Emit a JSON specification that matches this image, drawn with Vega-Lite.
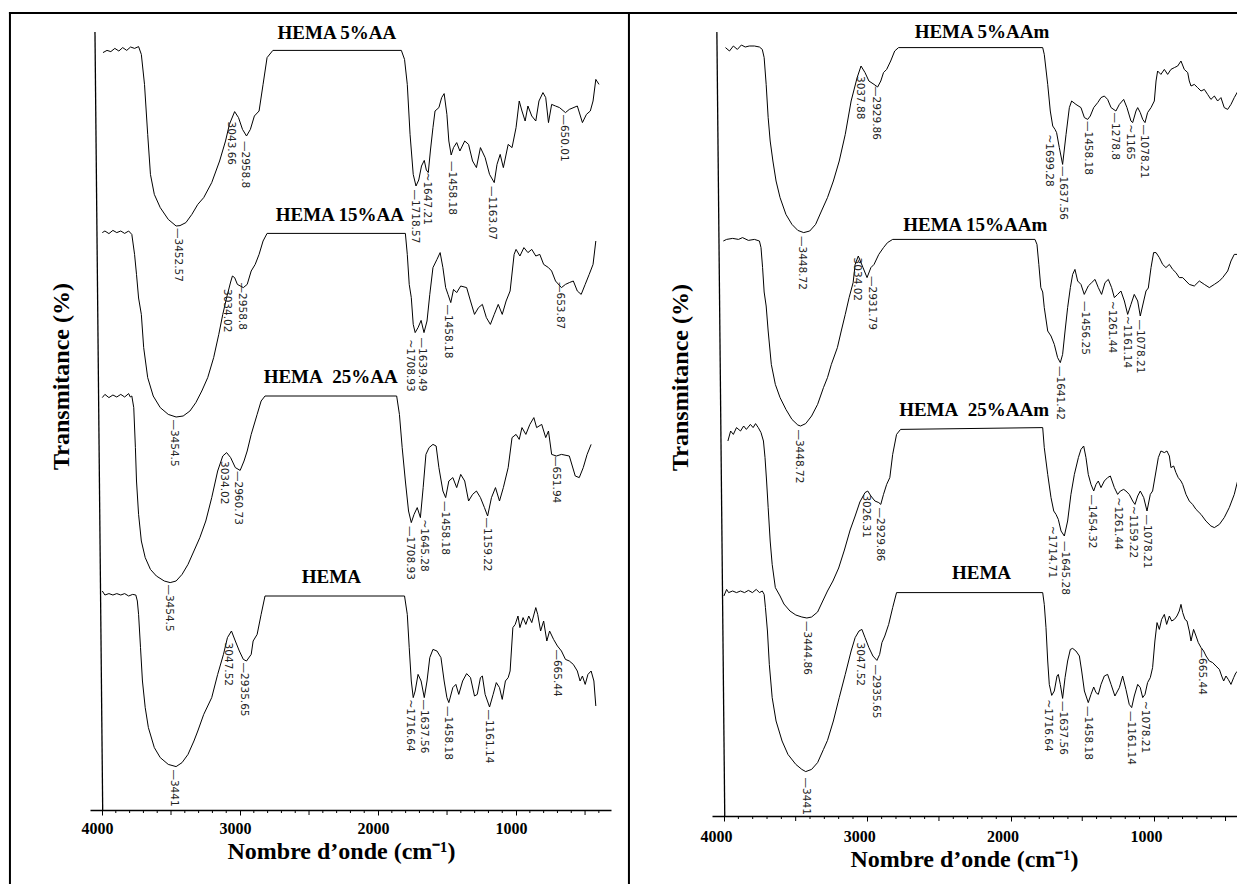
{
"$schema":"https://vega.github.io/schema/vega-lite/v6.json",
"background":"white",
"padding":{"left":8,"top":11,"right":0,"bottom":0},
"bounds":"flush",
"spacing":101,
"config":{"view":{"stroke":null}},
"datasets":{
"ticksMinor":[{"wn":3900},{"wn":3800},{"wn":3700},{"wn":3600},{"wn":3400},{"wn":3300},{"wn":3200},{"wn":3100},{"wn":2900},{"wn":2800},{"wn":2700},{"wn":2600},{"wn":2400},{"wn":2300},{"wn":2200},{"wn":2100},{"wn":1900},{"wn":1800},{"wn":1700},{"wn":1600},{"wn":1400},{"wn":1300},{"wn":1200},{"wn":1100},{"wn":900},{"wn":800},{"wn":700},{"wn":600},{"wn":400}],
"ticksMid":[{"wn":3500},{"wn":2500},{"wn":1500},{"wn":500}],
"specL":[
{"series":"HEMA 5%AA","wn":3993,"T":378.7},{"series":"HEMA 5%AA","wn":3964,"T":379.8},{"series":"HEMA 5%AA","wn":3936,"T":379.2},{"series":"HEMA 5%AA","wn":3907,"T":380.8},{"series":"HEMA 5%AA","wn":3878,"T":379.5},{"series":"HEMA 5%AA","wn":3850,"T":381.2},{"series":"HEMA 5%AA","wn":3821,"T":379.8},{"series":"HEMA 5%AA","wn":3793,"T":381.5},{"series":"HEMA 5%AA","wn":3764,"T":380.8},{"series":"HEMA 5%AA","wn":3735,"T":381.7},{"series":"HEMA 5%AA","wn":3715,"T":377.8},{"series":"HEMA 5%AA","wn":3692,"T":362.8},{"series":"HEMA 5%AA","wn":3669,"T":337.8},{"series":"HEMA 5%AA","wn":3649,"T":317.8},{"series":"HEMA 5%AA","wn":3621,"T":307.8},{"series":"HEMA 5%AA","wn":3578,"T":301.2},{"series":"HEMA 5%AA","wn":3520,"T":295.3},{"series":"HEMA 5%AA","wn":3463,"T":292},{"series":"HEMA 5%AA","wn":3435,"T":292.2},{"series":"HEMA 5%AA","wn":3392,"T":293.7},{"series":"HEMA 5%AA","wn":3349,"T":297.8},{"series":"HEMA 5%AA","wn":3306,"T":302.8},{"series":"HEMA 5%AA","wn":3263,"T":306.2},{"series":"HEMA 5%AA","wn":3205,"T":313.7},{"series":"HEMA 5%AA","wn":3148,"T":324.5},{"series":"HEMA 5%AA","wn":3105,"T":334.5},{"series":"HEMA 5%AA","wn":3077,"T":342.8},{"series":"HEMA 5%AA","wn":3039,"T":349.2},{"series":"HEMA 5%AA","wn":3011,"T":346.2},{"series":"HEMA 5%AA","wn":2982,"T":340.3},{"series":"HEMA 5%AA","wn":2953,"T":337},{"series":"HEMA 5%AA","wn":2925,"T":340.3},{"series":"HEMA 5%AA","wn":2896,"T":347},{"series":"HEMA 5%AA","wn":2862,"T":349.5},{"series":"HEMA 5%AA","wn":2833,"T":362.8},{"series":"HEMA 5%AA","wn":2804,"T":376.2},{"series":"HEMA 5%AA","wn":2762,"T":379.8},{"series":"HEMA 5%AA","wn":1831,"T":379.8},{"series":"HEMA 5%AA","wn":1808,"T":375.3},{"series":"HEMA 5%AA","wn":1788,"T":362.8},{"series":"HEMA 5%AA","wn":1768,"T":337.8},{"series":"HEMA 5%AA","wn":1745,"T":317.8},{"series":"HEMA 5%AA","wn":1725,"T":312},{"series":"HEMA 5%AA","wn":1705,"T":315},{"series":"HEMA 5%AA","wn":1685,"T":322},{"series":"HEMA 5%AA","wn":1665,"T":324.8},{"series":"HEMA 5%AA","wn":1650,"T":320},{"series":"HEMA 5%AA","wn":1636,"T":318.7},{"series":"HEMA 5%AA","wn":1620,"T":330},{"series":"HEMA 5%AA","wn":1602,"T":341.2},{"series":"HEMA 5%AA","wn":1587,"T":349.5},{"series":"HEMA 5%AA","wn":1559,"T":351.2},{"series":"HEMA 5%AA","wn":1539,"T":356.2},{"series":"HEMA 5%AA","wn":1521,"T":358.2},{"series":"HEMA 5%AA","wn":1501,"T":347.8},{"series":"HEMA 5%AA","wn":1487,"T":334.5},{"series":"HEMA 5%AA","wn":1470,"T":327.5},{"series":"HEMA 5%AA","wn":1453,"T":331.2},{"series":"HEMA 5%AA","wn":1430,"T":333.7},{"series":"HEMA 5%AA","wn":1407,"T":329.5},{"series":"HEMA 5%AA","wn":1372,"T":334.5},{"series":"HEMA 5%AA","wn":1344,"T":332.8},{"series":"HEMA 5%AA","wn":1315,"T":324.5},{"series":"HEMA 5%AA","wn":1287,"T":321.2},{"series":"HEMA 5%AA","wn":1258,"T":331.2},{"series":"HEMA 5%AA","wn":1224,"T":326.2},{"series":"HEMA 5%AA","wn":1192,"T":317.8},{"series":"HEMA 5%AA","wn":1158,"T":313.7},{"series":"HEMA 5%AA","wn":1138,"T":322.8},{"series":"HEMA 5%AA","wn":1115,"T":327.8},{"series":"HEMA 5%AA","wn":1092,"T":321.2},{"series":"HEMA 5%AA","wn":1057,"T":332.8},{"series":"HEMA 5%AA","wn":1029,"T":331.2},{"series":"HEMA 5%AA","wn":1000,"T":341.2},{"series":"HEMA 5%AA","wn":977,"T":354.5},{"series":"HEMA 5%AA","wn":957,"T":349.5},{"series":"HEMA 5%AA","wn":934,"T":344.5},{"series":"HEMA 5%AA","wn":914,"T":352},{"series":"HEMA 5%AA","wn":886,"T":347},{"series":"HEMA 5%AA","wn":857,"T":344.5},{"series":"HEMA 5%AA","wn":834,"T":354.5},{"series":"HEMA 5%AA","wn":805,"T":358.7},{"series":"HEMA 5%AA","wn":785,"T":356.2},{"series":"HEMA 5%AA","wn":765,"T":343.7},{"series":"HEMA 5%AA","wn":742,"T":352.8},{"series":"HEMA 5%AA","wn":714,"T":352},{"series":"HEMA 5%AA","wn":685,"T":351.2},{"series":"HEMA 5%AA","wn":642,"T":348.7},{"series":"HEMA 5%AA","wn":614,"T":350.3},{"series":"HEMA 5%AA","wn":556,"T":352},{"series":"HEMA 5%AA","wn":519,"T":343.7},{"series":"HEMA 5%AA","wn":490,"T":347.8},{"series":"HEMA 5%AA","wn":462,"T":349.5},{"series":"HEMA 5%AA","wn":442,"T":354.5},{"series":"HEMA 5%AA","wn":422,"T":365.3},{"series":"HEMA 5%AA","wn":399,"T":362.8},
{"series":"HEMA 15%AA","wn":3998,"T":288.7},{"series":"HEMA 15%AA","wn":3979,"T":289.5},{"series":"HEMA 15%AA","wn":3950,"T":288.2},{"series":"HEMA 15%AA","wn":3921,"T":289.8},{"series":"HEMA 15%AA","wn":3893,"T":288.7},{"series":"HEMA 15%AA","wn":3864,"T":289.5},{"series":"HEMA 15%AA","wn":3836,"T":288.3},{"series":"HEMA 15%AA","wn":3807,"T":289.5},{"series":"HEMA 15%AA","wn":3784,"T":287.8},{"series":"HEMA 15%AA","wn":3764,"T":277.8},{"series":"HEMA 15%AA","wn":3750,"T":267.8},{"series":"HEMA 15%AA","wn":3735,"T":256},{"series":"HEMA 15%AA","wn":3715,"T":247.8},{"series":"HEMA 15%AA","wn":3698,"T":231.2},{"series":"HEMA 15%AA","wn":3669,"T":216.2},{"series":"HEMA 15%AA","wn":3629,"T":207},{"series":"HEMA 15%AA","wn":3578,"T":201.2},{"series":"HEMA 15%AA","wn":3520,"T":197.8},{"series":"HEMA 15%AA","wn":3463,"T":196.5},{"series":"HEMA 15%AA","wn":3412,"T":197},{"series":"HEMA 15%AA","wn":3363,"T":199.5},{"series":"HEMA 15%AA","wn":3320,"T":203.7},{"series":"HEMA 15%AA","wn":3277,"T":209.5},{"series":"HEMA 15%AA","wn":3234,"T":216.2},{"series":"HEMA 15%AA","wn":3191,"T":226.2},{"series":"HEMA 15%AA","wn":3154,"T":237.8},{"series":"HEMA 15%AA","wn":3125,"T":247.8},{"series":"HEMA 15%AA","wn":3097,"T":256.2},{"series":"HEMA 15%AA","wn":3068,"T":264},{"series":"HEMA 15%AA","wn":3055,"T":267},{"series":"HEMA 15%AA","wn":3039,"T":266.2},{"series":"HEMA 15%AA","wn":3019,"T":262.8},{"series":"HEMA 15%AA","wn":2976,"T":261.2},{"series":"HEMA 15%AA","wn":2948,"T":262.8},{"series":"HEMA 15%AA","wn":2919,"T":269.5},{"series":"HEMA 15%AA","wn":2890,"T":272.8},{"series":"HEMA 15%AA","wn":2862,"T":277.8},{"series":"HEMA 15%AA","wn":2833,"T":284.5},{"series":"HEMA 15%AA","wn":2804,"T":288.3},{"series":"HEMA 15%AA","wn":1802,"T":288.3},{"series":"HEMA 15%AA","wn":1788,"T":277.8},{"series":"HEMA 15%AA","wn":1774,"T":262.8},{"series":"HEMA 15%AA","wn":1759,"T":256.2},{"series":"HEMA 15%AA","wn":1745,"T":242.8},{"series":"HEMA 15%AA","wn":1731,"T":238.7},{"series":"HEMA 15%AA","wn":1710,"T":241.2},{"series":"HEMA 15%AA","wn":1688,"T":244.8},{"series":"HEMA 15%AA","wn":1667,"T":238.7},{"series":"HEMA 15%AA","wn":1645,"T":244.5},{"series":"HEMA 15%AA","wn":1625,"T":257.8},{"series":"HEMA 15%AA","wn":1602,"T":271.2},{"series":"HEMA 15%AA","wn":1573,"T":275.3},{"series":"HEMA 15%AA","wn":1550,"T":278.7},{"series":"HEMA 15%AA","wn":1530,"T":271.2},{"series":"HEMA 15%AA","wn":1510,"T":261.2},{"series":"HEMA 15%AA","wn":1493,"T":257.8},{"series":"HEMA 15%AA","wn":1473,"T":253.7},{"series":"HEMA 15%AA","wn":1453,"T":260.3},{"series":"HEMA 15%AA","wn":1430,"T":258.7},{"series":"HEMA 15%AA","wn":1401,"T":262},{"series":"HEMA 15%AA","wn":1358,"T":261.2},{"series":"HEMA 15%AA","wn":1330,"T":254.5},{"series":"HEMA 15%AA","wn":1301,"T":247.8},{"series":"HEMA 15%AA","wn":1272,"T":251.2},{"series":"HEMA 15%AA","wn":1244,"T":252.8},{"series":"HEMA 15%AA","wn":1215,"T":246.2},{"series":"HEMA 15%AA","wn":1186,"T":242.8},{"series":"HEMA 15%AA","wn":1158,"T":247.8},{"series":"HEMA 15%AA","wn":1129,"T":252.8},{"series":"HEMA 15%AA","wn":1100,"T":247.8},{"series":"HEMA 15%AA","wn":1072,"T":254.5},{"series":"HEMA 15%AA","wn":1043,"T":259.5},{"series":"HEMA 15%AA","wn":1014,"T":277.8},{"series":"HEMA 15%AA","wn":1000,"T":280.3},{"series":"HEMA 15%AA","wn":972,"T":277},{"series":"HEMA 15%AA","wn":943,"T":281.2},{"series":"HEMA 15%AA","wn":914,"T":278.7},{"series":"HEMA 15%AA","wn":886,"T":280.3},{"series":"HEMA 15%AA","wn":857,"T":277},{"series":"HEMA 15%AA","wn":828,"T":277.8},{"series":"HEMA 15%AA","wn":800,"T":272.8},{"series":"HEMA 15%AA","wn":765,"T":271.2},{"series":"HEMA 15%AA","wn":742,"T":269.5},{"series":"HEMA 15%AA","wn":714,"T":264.5},{"series":"HEMA 15%AA","wn":671,"T":261.2},{"series":"HEMA 15%AA","wn":642,"T":262.8},{"series":"HEMA 15%AA","wn":614,"T":263.7},{"series":"HEMA 15%AA","wn":585,"T":264.5},{"series":"HEMA 15%AA","wn":556,"T":259.5},{"series":"HEMA 15%AA","wn":528,"T":257.8},{"series":"HEMA 15%AA","wn":499,"T":262.8},{"series":"HEMA 15%AA","wn":470,"T":267.8},{"series":"HEMA 15%AA","wn":442,"T":272.8},{"series":"HEMA 15%AA","wn":422,"T":284.5},
{"series":"HEMA 25%AA","wn":3998,"T":206.2},{"series":"HEMA 25%AA","wn":3979,"T":207.8},{"series":"HEMA 25%AA","wn":3950,"T":206.2},{"series":"HEMA 25%AA","wn":3921,"T":207.5},{"series":"HEMA 25%AA","wn":3893,"T":206.5},{"series":"HEMA 25%AA","wn":3864,"T":207.8},{"series":"HEMA 25%AA","wn":3836,"T":206.5},{"series":"HEMA 25%AA","wn":3807,"T":208.2},{"series":"HEMA 25%AA","wn":3795,"T":206.5},{"series":"HEMA 25%AA","wn":3784,"T":207},{"series":"HEMA 25%AA","wn":3770,"T":201.2},{"series":"HEMA 25%AA","wn":3758,"T":181.2},{"series":"HEMA 25%AA","wn":3750,"T":164.5},{"series":"HEMA 25%AA","wn":3735,"T":147.8},{"series":"HEMA 25%AA","wn":3715,"T":134.5},{"series":"HEMA 25%AA","wn":3687,"T":126.2},{"series":"HEMA 25%AA","wn":3649,"T":120.3},{"series":"HEMA 25%AA","wn":3606,"T":117},{"series":"HEMA 25%AA","wn":3549,"T":114.5},{"series":"HEMA 25%AA","wn":3506,"T":113.7},{"series":"HEMA 25%AA","wn":3463,"T":114.5},{"series":"HEMA 25%AA","wn":3420,"T":117.8},{"series":"HEMA 25%AA","wn":3377,"T":122.8},{"series":"HEMA 25%AA","wn":3334,"T":129.5},{"series":"HEMA 25%AA","wn":3291,"T":136.2},{"series":"HEMA 25%AA","wn":3248,"T":144.5},{"series":"HEMA 25%AA","wn":3205,"T":156.2},{"series":"HEMA 25%AA","wn":3162,"T":169.5},{"series":"HEMA 25%AA","wn":3125,"T":177},{"series":"HEMA 25%AA","wn":3097,"T":178.7},{"series":"HEMA 25%AA","wn":3068,"T":176.2},{"series":"HEMA 25%AA","wn":3034,"T":171.2},{"series":"HEMA 25%AA","wn":2999,"T":169.8},{"series":"HEMA 25%AA","wn":2971,"T":174.5},{"series":"HEMA 25%AA","wn":2948,"T":179.5},{"series":"HEMA 25%AA","wn":2919,"T":187.8},{"series":"HEMA 25%AA","wn":2876,"T":197.8},{"series":"HEMA 25%AA","wn":2847,"T":204.5},{"series":"HEMA 25%AA","wn":2819,"T":207},{"series":"HEMA 25%AA","wn":1865,"T":207},{"series":"HEMA 25%AA","wn":1845,"T":197.8},{"series":"HEMA 25%AA","wn":1825,"T":181.2},{"series":"HEMA 25%AA","wn":1802,"T":164.5},{"series":"HEMA 25%AA","wn":1779,"T":149.5},{"series":"HEMA 25%AA","wn":1759,"T":143.7},{"series":"HEMA 25%AA","wn":1739,"T":147.8},{"series":"HEMA 25%AA","wn":1716,"T":151.2},{"series":"HEMA 25%AA","wn":1693,"T":146.2},{"series":"HEMA 25%AA","wn":1673,"T":161.2},{"series":"HEMA 25%AA","wn":1653,"T":177.8},{"series":"HEMA 25%AA","wn":1630,"T":181.2},{"series":"HEMA 25%AA","wn":1602,"T":182.8},{"series":"HEMA 25%AA","wn":1579,"T":182},{"series":"HEMA 25%AA","wn":1559,"T":171.2},{"series":"HEMA 25%AA","wn":1530,"T":159.5},{"series":"HEMA 25%AA","wn":1510,"T":156.2},{"series":"HEMA 25%AA","wn":1487,"T":164.5},{"series":"HEMA 25%AA","wn":1458,"T":166.2},{"series":"HEMA 25%AA","wn":1430,"T":161.2},{"series":"HEMA 25%AA","wn":1401,"T":167.8},{"series":"HEMA 25%AA","wn":1372,"T":164.5},{"series":"HEMA 25%AA","wn":1344,"T":154.5},{"series":"HEMA 25%AA","wn":1315,"T":157.8},{"series":"HEMA 25%AA","wn":1287,"T":159.5},{"series":"HEMA 25%AA","wn":1258,"T":156.2},{"series":"HEMA 25%AA","wn":1229,"T":151.2},{"series":"HEMA 25%AA","wn":1206,"T":147},{"series":"HEMA 25%AA","wn":1178,"T":156.2},{"series":"HEMA 25%AA","wn":1149,"T":161.2},{"series":"HEMA 25%AA","wn":1120,"T":154.5},{"series":"HEMA 25%AA","wn":1092,"T":161.2},{"series":"HEMA 25%AA","wn":1057,"T":171.2},{"series":"HEMA 25%AA","wn":1029,"T":186.2},{"series":"HEMA 25%AA","wn":1000,"T":187.8},{"series":"HEMA 25%AA","wn":977,"T":185.3},{"series":"HEMA 25%AA","wn":957,"T":191.2},{"series":"HEMA 25%AA","wn":929,"T":187.8},{"series":"HEMA 25%AA","wn":900,"T":192.8},{"series":"HEMA 25%AA","wn":871,"T":196.2},{"series":"HEMA 25%AA","wn":851,"T":191.2},{"series":"HEMA 25%AA","wn":814,"T":192.8},{"series":"HEMA 25%AA","wn":785,"T":186.2},{"series":"HEMA 25%AA","wn":765,"T":189.5},{"series":"HEMA 25%AA","wn":742,"T":177.8},{"series":"HEMA 25%AA","wn":708,"T":177},{"series":"HEMA 25%AA","wn":671,"T":177.8},{"series":"HEMA 25%AA","wn":614,"T":177},{"series":"HEMA 25%AA","wn":571,"T":167},{"series":"HEMA 25%AA","wn":542,"T":166.2},{"series":"HEMA 25%AA","wn":513,"T":171.2},{"series":"HEMA 25%AA","wn":485,"T":177.8},{"series":"HEMA 25%AA","wn":456,"T":182.8},
{"series":"HEMA","wn":3998,"T":109.5},{"series":"HEMA","wn":3979,"T":107.5},{"series":"HEMA","wn":3950,"T":108.2},{"series":"HEMA","wn":3921,"T":107.5},{"series":"HEMA","wn":3893,"T":108.2},{"series":"HEMA","wn":3864,"T":107.5},{"series":"HEMA","wn":3836,"T":108.2},{"series":"HEMA","wn":3807,"T":107},{"series":"HEMA","wn":3778,"T":107.8},{"series":"HEMA","wn":3755,"T":107.5},{"series":"HEMA","wn":3744,"T":104.5},{"series":"HEMA","wn":3735,"T":97.8},{"series":"HEMA","wn":3721,"T":81.2},{"series":"HEMA","wn":3707,"T":64.5},{"series":"HEMA","wn":3687,"T":51.2},{"series":"HEMA","wn":3664,"T":41.2},{"series":"HEMA","wn":3621,"T":31.2},{"series":"HEMA","wn":3578,"T":26.2},{"series":"HEMA","wn":3520,"T":22.8},{"series":"HEMA","wn":3463,"T":21.7},{"series":"HEMA","wn":3420,"T":23.7},{"series":"HEMA","wn":3377,"T":27.8},{"series":"HEMA","wn":3334,"T":34.5},{"series":"HEMA","wn":3306,"T":39.5},{"series":"HEMA","wn":3263,"T":47.8},{"series":"HEMA","wn":3205,"T":56.2},{"series":"HEMA","wn":3162,"T":67.8},{"series":"HEMA","wn":3120,"T":77.8},{"series":"HEMA","wn":3091,"T":86.2},{"series":"HEMA","wn":3062,"T":89.5},{"series":"HEMA","wn":3034,"T":84.5},{"series":"HEMA","wn":3005,"T":79.5},{"series":"HEMA","wn":2976,"T":75.3},{"series":"HEMA","wn":2953,"T":74.5},{"series":"HEMA","wn":2919,"T":77.8},{"series":"HEMA","wn":2905,"T":84.5},{"series":"HEMA","wn":2876,"T":87.8},{"series":"HEMA","wn":2847,"T":97.8},{"series":"HEMA","wn":2819,"T":107},{"series":"HEMA","wn":1808,"T":107},{"series":"HEMA","wn":1788,"T":97.8},{"series":"HEMA","wn":1774,"T":81.2},{"series":"HEMA","wn":1759,"T":64.5},{"series":"HEMA","wn":1745,"T":56.2},{"series":"HEMA","wn":1731,"T":59.5},{"series":"HEMA","wn":1710,"T":67.8},{"series":"HEMA","wn":1688,"T":64.5},{"series":"HEMA","wn":1665,"T":56.2},{"series":"HEMA","wn":1645,"T":64.5},{"series":"HEMA","wn":1625,"T":76.2},{"series":"HEMA","wn":1602,"T":80.3},{"series":"HEMA","wn":1573,"T":79.5},{"series":"HEMA","wn":1544,"T":76.2},{"series":"HEMA","wn":1521,"T":64.5},{"series":"HEMA","wn":1501,"T":56.2},{"series":"HEMA","wn":1487,"T":53.7},{"series":"HEMA","wn":1458,"T":61.2},{"series":"HEMA","wn":1436,"T":62.8},{"series":"HEMA","wn":1415,"T":57.8},{"series":"HEMA","wn":1387,"T":64.5},{"series":"HEMA","wn":1358,"T":68.2},{"series":"HEMA","wn":1330,"T":66.2},{"series":"HEMA","wn":1301,"T":57},{"series":"HEMA","wn":1281,"T":57.8},{"series":"HEMA","wn":1258,"T":66.2},{"series":"HEMA","wn":1244,"T":67},{"series":"HEMA","wn":1224,"T":57.8},{"series":"HEMA","wn":1192,"T":51.5},{"series":"HEMA","wn":1166,"T":57.8},{"series":"HEMA","wn":1143,"T":63.7},{"series":"HEMA","wn":1120,"T":61.2},{"series":"HEMA","wn":1100,"T":55.3},{"series":"HEMA","wn":1077,"T":64.5},{"series":"HEMA","wn":1057,"T":66.2},{"series":"HEMA","wn":1043,"T":69.5},{"series":"HEMA","wn":1023,"T":91.2},{"series":"HEMA","wn":1006,"T":92.8},{"series":"HEMA","wn":986,"T":97},{"series":"HEMA","wn":972,"T":91.2},{"series":"HEMA","wn":949,"T":96.2},{"series":"HEMA","wn":929,"T":92.8},{"series":"HEMA","wn":908,"T":97},{"series":"HEMA","wn":886,"T":93.7},{"series":"HEMA","wn":857,"T":101.2},{"series":"HEMA","wn":843,"T":97.8},{"series":"HEMA","wn":822,"T":89.5},{"series":"HEMA","wn":800,"T":94.5},{"series":"HEMA","wn":777,"T":84.5},{"series":"HEMA","wn":757,"T":89.5},{"series":"HEMA","wn":728,"T":85.3},{"series":"HEMA","wn":700,"T":82},{"series":"HEMA","wn":671,"T":79.5},{"series":"HEMA","wn":642,"T":75.3},{"series":"HEMA","wn":614,"T":74.5},{"series":"HEMA","wn":585,"T":72.8},{"series":"HEMA","wn":556,"T":69.5},{"series":"HEMA","wn":536,"T":64.5},{"series":"HEMA","wn":519,"T":67},{"series":"HEMA","wn":499,"T":62.8},{"series":"HEMA","wn":479,"T":67.8},{"series":"HEMA","wn":456,"T":69.5},{"series":"HEMA","wn":436,"T":64.5},{"series":"HEMA","wn":422,"T":52}
],
"labelsL":[
{"wn":3449,"T":291,"label":"—3452.57"},{"wn":3065,"T":344.2,"label":"3043.66"},{"wn":2962,"T":334.5,"label":"—2958.8"},{"wn":1730,"T":310.3,"label":"—1718.57"},{"wn":1645,"T":318.7,"label":"~1647.21"},{"wn":1462,"T":324.5,"label":"—1458.18"},{"wn":1172,"T":312,"label":"—1163.07"},{"wn":651,"T":347.8,"label":"—650.01"},
{"wn":3477,"T":195.3,"label":"—3454.5"},{"wn":3095,"T":260.5,"label":"3034.02"},{"wn":2985,"T":263.7,"label":"—2958.8"},{"wn":1765,"T":235.3,"label":"~1708.93"},{"wn":1679,"T":236.2,"label":"—1639.49"},{"wn":1490,"T":252.8,"label":"—1458.18"},{"wn":685,"T":264,"label":"—653.87"},
{"wn":3512,"T":112.8,"label":"—3454.5"},{"wn":3114,"T":174.5,"label":"3034.02"},{"wn":3014,"T":169.5,"label":"—2960.73"},{"wn":1768,"T":142,"label":"—1708.93"},{"wn":1670,"T":145.3,"label":"~1645.28"},{"wn":1516,"T":154.5,"label":"—1458.18"},{"wn":1212,"T":146.2,"label":"—1159.22"},{"wn":711,"T":177,"label":"—651.94"},
{"wn":3477,"T":20.3,"label":"—3441"},{"wn":3085,"T":83.7,"label":"3047.52"},{"wn":2968,"T":73.7,"label":"—2935.65"},{"wn":1768,"T":55.3,"label":"~1716.64"},{"wn":1668,"T":55.3,"label":"—1637.56"},{"wn":1496,"T":52,"label":"—1458.18"},{"wn":1195,"T":50.3,"label":"—1161.14"},{"wn":705,"T":80.3,"label":"—665.44"}
],
"titlesL":[
{"wn":2298,"T":385.5,"name":"HEMA 5%AA"},{"wn":2277,"T":294.5,"name":"HEMA 15%AA"},{"wn":2343,"T":213.7,"name":"HEMA\u00a0 25%AA"},{"wn":2338,"T":113.7,"name":"HEMA"}
],
"specR":[
{"series":"HEMA 5%AAm","wn":3990,"T":384.2},{"series":"HEMA 5%AAm","wn":3962,"T":382.5},{"series":"HEMA 5%AAm","wn":3935,"T":385},{"series":"HEMA 5%AAm","wn":3907,"T":383.3},{"series":"HEMA 5%AAm","wn":3879,"T":385.5},{"series":"HEMA 5%AAm","wn":3852,"T":384.5},{"series":"HEMA 5%AAm","wn":3824,"T":385},{"series":"HEMA 5%AAm","wn":3788,"T":385},{"series":"HEMA 5%AAm","wn":3753,"T":384.5},{"series":"HEMA 5%AAm","wn":3733,"T":383.3},{"series":"HEMA 5%AAm","wn":3720,"T":379.2},{"series":"HEMA 5%AAm","wn":3706,"T":365.8},{"series":"HEMA 5%AAm","wn":3692,"T":349.2},{"series":"HEMA 5%AAm","wn":3678,"T":337.5},{"series":"HEMA 5%AAm","wn":3659,"T":327.5},{"series":"HEMA 5%AAm","wn":3637,"T":317.5},{"series":"HEMA 5%AAm","wn":3609,"T":309.2},{"series":"HEMA 5%AAm","wn":3568,"T":300.8},{"series":"HEMA 5%AAm","wn":3526,"T":295.8},{"series":"HEMA 5%AAm","wn":3485,"T":292.8},{"series":"HEMA 5%AAm","wn":3444,"T":291.7},{"series":"HEMA 5%AAm","wn":3402,"T":292.5},{"series":"HEMA 5%AAm","wn":3361,"T":295.8},{"series":"HEMA 5%AAm","wn":3320,"T":302.5},{"series":"HEMA 5%AAm","wn":3278,"T":309.2},{"series":"HEMA 5%AAm","wn":3237,"T":317.5},{"series":"HEMA 5%AAm","wn":3196,"T":327.5},{"series":"HEMA 5%AAm","wn":3154,"T":340.8},{"series":"HEMA 5%AAm","wn":3113,"T":357.5},{"series":"HEMA 5%AAm","wn":3071,"T":369.2},{"series":"HEMA 5%AAm","wn":3044,"T":375},{"series":"HEMA 5%AAm","wn":3016,"T":371.7},{"series":"HEMA 5%AAm","wn":2989,"T":367.5},{"series":"HEMA 5%AAm","wn":2953,"T":365.8},{"series":"HEMA 5%AAm","wn":2928,"T":364.5},{"series":"HEMA 5%AAm","wn":2906,"T":367.5},{"series":"HEMA 5%AAm","wn":2887,"T":371.7},{"series":"HEMA 5%AAm","wn":2865,"T":373.3},{"series":"HEMA 5%AAm","wn":2837,"T":377.5},{"series":"HEMA 5%AAm","wn":2809,"T":382.5},{"series":"HEMA 5%AAm","wn":2782,"T":384.2},{"series":"HEMA 5%AAm","wn":1776,"T":384.2},{"series":"HEMA 5%AAm","wn":1765,"T":380.8},{"series":"HEMA 5%AAm","wn":1741,"T":365.8},{"series":"HEMA 5%AAm","wn":1723,"T":352.5},{"series":"HEMA 5%AAm","wn":1706,"T":345},{"series":"HEMA 5%AAm","wn":1690,"T":343.3},{"series":"HEMA 5%AAm","wn":1679,"T":341.7},{"series":"HEMA 5%AAm","wn":1660,"T":334.2},{"series":"HEMA 5%AAm","wn":1637,"T":325.8},{"series":"HEMA 5%AAm","wn":1613,"T":340.8},{"series":"HEMA 5%AAm","wn":1590,"T":354.2},{"series":"HEMA 5%AAm","wn":1574,"T":357.5},{"series":"HEMA 5%AAm","wn":1544,"T":355.8},{"series":"HEMA 5%AAm","wn":1509,"T":354.2},{"series":"HEMA 5%AAm","wn":1485,"T":349.2},{"series":"HEMA 5%AAm","wn":1462,"T":348.3},{"series":"HEMA 5%AAm","wn":1444,"T":350},{"series":"HEMA 5%AAm","wn":1420,"T":354.2},{"series":"HEMA 5%AAm","wn":1392,"T":356.7},{"series":"HEMA 5%AAm","wn":1369,"T":359.2},{"series":"HEMA 5%AAm","wn":1346,"T":360},{"series":"HEMA 5%AAm","wn":1323,"T":358.3},{"series":"HEMA 5%AAm","wn":1299,"T":354.2},{"series":"HEMA 5%AAm","wn":1265,"T":352.5},{"series":"HEMA 5%AAm","wn":1241,"T":355.8},{"series":"HEMA 5%AAm","wn":1211,"T":358.3},{"series":"HEMA 5%AAm","wn":1188,"T":354.2},{"series":"HEMA 5%AAm","wn":1160,"T":347.5},{"series":"HEMA 5%AAm","wn":1148,"T":346.7},{"series":"HEMA 5%AAm","wn":1125,"T":352.5},{"series":"HEMA 5%AAm","wn":1113,"T":354.2},{"series":"HEMA 5%AAm","wn":1095,"T":351.7},{"series":"HEMA 5%AAm","wn":1078,"T":348.3},{"series":"HEMA 5%AAm","wn":1062,"T":346.7},{"series":"HEMA 5%AAm","wn":1044,"T":351.7},{"series":"HEMA 5%AAm","wn":1020,"T":354.2},{"series":"HEMA 5%AAm","wn":997,"T":357.5},{"series":"HEMA 5%AAm","wn":985,"T":367.5},{"series":"HEMA 5%AAm","wn":974,"T":372.5},{"series":"HEMA 5%AAm","wn":951,"T":370.8},{"series":"HEMA 5%AAm","wn":927,"T":373.3},{"series":"HEMA 5%AAm","wn":904,"T":370.8},{"series":"HEMA 5%AAm","wn":881,"T":373.3},{"series":"HEMA 5%AAm","wn":857,"T":374.2},{"series":"HEMA 5%AAm","wn":834,"T":375},{"series":"HEMA 5%AAm","wn":811,"T":377.5},{"series":"HEMA 5%AAm","wn":788,"T":373.3},{"series":"HEMA 5%AAm","wn":764,"T":371.7},{"series":"HEMA 5%AAm","wn":753,"T":367.5},{"series":"HEMA 5%AAm","wn":741,"T":365},{"series":"HEMA 5%AAm","wn":718,"T":365.8},{"series":"HEMA 5%AAm","wn":695,"T":364.2},{"series":"HEMA 5%AAm","wn":671,"T":362.5},{"series":"HEMA 5%AAm","wn":648,"T":363.3},{"series":"HEMA 5%AAm","wn":625,"T":360.8},{"series":"HEMA 5%AAm","wn":602,"T":358.3},{"series":"HEMA 5%AAm","wn":578,"T":360},{"series":"HEMA 5%AAm","wn":555,"T":357.5},{"series":"HEMA 5%AAm","wn":532,"T":359.2},{"series":"HEMA 5%AAm","wn":509,"T":354.2},{"series":"HEMA 5%AAm","wn":485,"T":353.3},{"series":"HEMA 5%AAm","wn":462,"T":355.8},{"series":"HEMA 5%AAm","wn":439,"T":359.2},{"series":"HEMA 5%AAm","wn":413,"T":362.5},{"series":"HEMA 5%AAm","wn":400,"T":366},
{"series":"HEMA 15%AAm","wn":4005,"T":287.5},{"series":"HEMA 15%AAm","wn":3982,"T":288.3},{"series":"HEMA 15%AAm","wn":3940,"T":288.8},{"series":"HEMA 15%AAm","wn":3899,"T":288.3},{"series":"HEMA 15%AAm","wn":3871,"T":289.2},{"series":"HEMA 15%AAm","wn":3830,"T":287.8},{"series":"HEMA 15%AAm","wn":3788,"T":288.3},{"series":"HEMA 15%AAm","wn":3753,"T":287.5},{"series":"HEMA 15%AAm","wn":3742,"T":284.2},{"series":"HEMA 15%AAm","wn":3731,"T":274.2},{"series":"HEMA 15%AAm","wn":3720,"T":262},{"series":"HEMA 15%AAm","wn":3706,"T":255},{"series":"HEMA 15%AAm","wn":3692,"T":242.5},{"series":"HEMA 15%AAm","wn":3670,"T":225.8},{"series":"HEMA 15%AAm","wn":3642,"T":215.8},{"series":"HEMA 15%AAm","wn":3609,"T":209.2},{"series":"HEMA 15%AAm","wn":3568,"T":203.3},{"series":"HEMA 15%AAm","wn":3526,"T":198.3},{"series":"HEMA 15%AAm","wn":3485,"T":195.5},{"series":"HEMA 15%AAm","wn":3466,"T":195},{"series":"HEMA 15%AAm","wn":3430,"T":196.2},{"series":"HEMA 15%AAm","wn":3389,"T":200},{"series":"HEMA 15%AAm","wn":3347,"T":205.8},{"series":"HEMA 15%AAm","wn":3306,"T":214.2},{"series":"HEMA 15%AAm","wn":3278,"T":219.2},{"series":"HEMA 15%AAm","wn":3251,"T":225.8},{"series":"HEMA 15%AAm","wn":3209,"T":234.2},{"series":"HEMA 15%AAm","wn":3182,"T":242.5},{"series":"HEMA 15%AAm","wn":3154,"T":250.8},{"series":"HEMA 15%AAm","wn":3127,"T":259.2},{"series":"HEMA 15%AAm","wn":3099,"T":266.7},{"series":"HEMA 15%AAm","wn":3085,"T":275.8},{"series":"HEMA 15%AAm","wn":3063,"T":280},{"series":"HEMA 15%AAm","wn":3030,"T":274.2},{"series":"HEMA 15%AAm","wn":3002,"T":269.2},{"series":"HEMA 15%AAm","wn":2975,"T":274.2},{"series":"HEMA 15%AAm","wn":2953,"T":275.8},{"series":"HEMA 15%AAm","wn":2920,"T":280.8},{"series":"HEMA 15%AAm","wn":2887,"T":284.2},{"series":"HEMA 15%AAm","wn":2859,"T":286.7},{"series":"HEMA 15%AAm","wn":2823,"T":288.3},{"series":"HEMA 15%AAm","wn":1830,"T":288.3},{"series":"HEMA 15%AAm","wn":1816,"T":285.8},{"series":"HEMA 15%AAm","wn":1803,"T":275.8},{"series":"HEMA 15%AAm","wn":1789,"T":264.2},{"series":"HEMA 15%AAm","wn":1776,"T":262},{"series":"HEMA 15%AAm","wn":1765,"T":254.2},{"series":"HEMA 15%AAm","wn":1741,"T":242.5},{"series":"HEMA 15%AAm","wn":1718,"T":240},{"series":"HEMA 15%AAm","wn":1695,"T":235.8},{"series":"HEMA 15%AAm","wn":1672,"T":229.2},{"series":"HEMA 15%AAm","wn":1653,"T":226.7},{"series":"HEMA 15%AAm","wn":1637,"T":230.8},{"series":"HEMA 15%AAm","wn":1620,"T":242.5},{"series":"HEMA 15%AAm","wn":1602,"T":254.2},{"series":"HEMA 15%AAm","wn":1583,"T":264.2},{"series":"HEMA 15%AAm","wn":1567,"T":270.8},{"series":"HEMA 15%AAm","wn":1551,"T":273.3},{"series":"HEMA 15%AAm","wn":1532,"T":267.5},{"series":"HEMA 15%AAm","wn":1509,"T":265.8},{"series":"HEMA 15%AAm","wn":1486,"T":260.8},{"series":"HEMA 15%AAm","wn":1458,"T":265},{"series":"HEMA 15%AAm","wn":1434,"T":266.7},{"series":"HEMA 15%AAm","wn":1411,"T":268.3},{"series":"HEMA 15%AAm","wn":1388,"T":264.2},{"series":"HEMA 15%AAm","wn":1365,"T":260.8},{"series":"HEMA 15%AAm","wn":1341,"T":266.7},{"series":"HEMA 15%AAm","wn":1318,"T":268.3},{"series":"HEMA 15%AAm","wn":1295,"T":264.2},{"series":"HEMA 15%AAm","wn":1276,"T":259.2},{"series":"HEMA 15%AAm","wn":1253,"T":260.8},{"series":"HEMA 15%AAm","wn":1230,"T":262.5},{"series":"HEMA 15%AAm","wn":1206,"T":257.5},{"series":"HEMA 15%AAm","wn":1183,"T":250.8},{"series":"HEMA 15%AAm","wn":1160,"T":255.8},{"series":"HEMA 15%AAm","wn":1137,"T":260.8},{"series":"HEMA 15%AAm","wn":1113,"T":257.5},{"series":"HEMA 15%AAm","wn":1095,"T":250},{"series":"HEMA 15%AAm","wn":1071,"T":257.5},{"series":"HEMA 15%AAm","wn":1055,"T":262.5},{"series":"HEMA 15%AAm","wn":1039,"T":264},{"series":"HEMA 15%AAm","wn":1020,"T":274.2},{"series":"HEMA 15%AAm","wn":1002,"T":281.7},{"series":"HEMA 15%AAm","wn":985,"T":281.7},{"series":"HEMA 15%AAm","wn":962,"T":279.2},{"series":"HEMA 15%AAm","wn":939,"T":275.8},{"series":"HEMA 15%AAm","wn":916,"T":274.2},{"series":"HEMA 15%AAm","wn":892,"T":275.8},{"series":"HEMA 15%AAm","wn":869,"T":273.3},{"series":"HEMA 15%AAm","wn":846,"T":271.7},{"series":"HEMA 15%AAm","wn":823,"T":269.2},{"series":"HEMA 15%AAm","wn":799,"T":269.2},{"series":"HEMA 15%AAm","wn":776,"T":267.5},{"series":"HEMA 15%AAm","wn":753,"T":265.8},{"series":"HEMA 15%AAm","wn":718,"T":265},{"series":"HEMA 15%AAm","wn":683,"T":267.5},{"series":"HEMA 15%AAm","wn":648,"T":265.8},{"series":"HEMA 15%AAm","wn":613,"T":264.2},{"series":"HEMA 15%AAm","wn":578,"T":265.8},{"series":"HEMA 15%AAm","wn":543,"T":267.5},{"series":"HEMA 15%AAm","wn":520,"T":269.2},{"series":"HEMA 15%AAm","wn":485,"T":272.5},{"series":"HEMA 15%AAm","wn":462,"T":277.5},{"series":"HEMA 15%AAm","wn":439,"T":280.8},{"series":"HEMA 15%AAm","wn":413,"T":280.8},{"series":"HEMA 15%AAm","wn":400,"T":281},
{"series":"HEMA 25%AAm","wn":3973,"T":187.5},{"series":"HEMA 25%AAm","wn":3954,"T":192.5},{"series":"HEMA 25%AAm","wn":3935,"T":190.8},{"series":"HEMA 25%AAm","wn":3913,"T":194.2},{"series":"HEMA 25%AAm","wn":3885,"T":192.5},{"series":"HEMA 25%AAm","wn":3863,"T":195},{"series":"HEMA 25%AAm","wn":3844,"T":193.3},{"series":"HEMA 25%AAm","wn":3816,"T":195.8},{"series":"HEMA 25%AAm","wn":3797,"T":194.2},{"series":"HEMA 25%AAm","wn":3780,"T":196.2},{"series":"HEMA 25%AAm","wn":3761,"T":194.2},{"series":"HEMA 25%AAm","wn":3742,"T":191.7},{"series":"HEMA 25%AAm","wn":3725,"T":187.5},{"series":"HEMA 25%AAm","wn":3714,"T":179.2},{"series":"HEMA 25%AAm","wn":3703,"T":167.5},{"series":"HEMA 25%AAm","wn":3692,"T":154.2},{"series":"HEMA 25%AAm","wn":3678,"T":137.5},{"series":"HEMA 25%AAm","wn":3664,"T":125.8},{"series":"HEMA 25%AAm","wn":3642,"T":114.2},{"series":"HEMA 25%AAm","wn":3609,"T":110},{"series":"HEMA 25%AAm","wn":3582,"T":106},{"series":"HEMA 25%AAm","wn":3540,"T":102.5},{"series":"HEMA 25%AAm","wn":3499,"T":100.5},{"series":"HEMA 25%AAm","wn":3457,"T":99.5},{"series":"HEMA 25%AAm","wn":3422,"T":99},{"series":"HEMA 25%AAm","wn":3389,"T":99.5},{"series":"HEMA 25%AAm","wn":3347,"T":102},{"series":"HEMA 25%AAm","wn":3311,"T":107.5},{"series":"HEMA 25%AAm","wn":3278,"T":112.5},{"series":"HEMA 25%AAm","wn":3240,"T":117.5},{"series":"HEMA 25%AAm","wn":3200,"T":124},{"series":"HEMA 25%AAm","wn":3160,"T":133},{"series":"HEMA 25%AAm","wn":3120,"T":143},{"series":"HEMA 25%AAm","wn":3085,"T":150},{"series":"HEMA 25%AAm","wn":3052,"T":157},{"series":"HEMA 25%AAm","wn":3016,"T":161.7},{"series":"HEMA 25%AAm","wn":2997,"T":162.5},{"series":"HEMA 25%AAm","wn":2975,"T":160},{"series":"HEMA 25%AAm","wn":2947,"T":157.5},{"series":"HEMA 25%AAm","wn":2920,"T":156.7},{"series":"HEMA 25%AAm","wn":2906,"T":155.8},{"series":"HEMA 25%AAm","wn":2887,"T":160.8},{"series":"HEMA 25%AAm","wn":2865,"T":165.8},{"series":"HEMA 25%AAm","wn":2843,"T":169.2},{"series":"HEMA 25%AAm","wn":2823,"T":180.8},{"series":"HEMA 25%AAm","wn":2796,"T":190.8},{"series":"HEMA 25%AAm","wn":2768,"T":193.3},{"series":"HEMA 25%AAm","wn":1776,"T":194.2},{"series":"HEMA 25%AAm","wn":1765,"T":184.2},{"series":"HEMA 25%AAm","wn":1741,"T":170.8},{"series":"HEMA 25%AAm","wn":1718,"T":159.2},{"series":"HEMA 25%AAm","wn":1699,"T":152.5},{"series":"HEMA 25%AAm","wn":1683,"T":150.8},{"series":"HEMA 25%AAm","wn":1667,"T":148.3},{"series":"HEMA 25%AAm","wn":1648,"T":142.5},{"series":"HEMA 25%AAm","wn":1625,"T":140},{"series":"HEMA 25%AAm","wn":1602,"T":147.5},{"series":"HEMA 25%AAm","wn":1579,"T":160.8},{"series":"HEMA 25%AAm","wn":1555,"T":170.8},{"series":"HEMA 25%AAm","wn":1527,"T":179.2},{"series":"HEMA 25%AAm","wn":1509,"T":183.3},{"series":"HEMA 25%AAm","wn":1490,"T":185},{"series":"HEMA 25%AAm","wn":1474,"T":179.2},{"series":"HEMA 25%AAm","wn":1458,"T":170.8},{"series":"HEMA 25%AAm","wn":1439,"T":165.8},{"series":"HEMA 25%AAm","wn":1420,"T":162.5},{"series":"HEMA 25%AAm","wn":1404,"T":165.8},{"series":"HEMA 25%AAm","wn":1388,"T":167.5},{"series":"HEMA 25%AAm","wn":1369,"T":164.2},{"series":"HEMA 25%AAm","wn":1346,"T":167.5},{"series":"HEMA 25%AAm","wn":1323,"T":169.2},{"series":"HEMA 25%AAm","wn":1304,"T":170},{"series":"HEMA 25%AAm","wn":1276,"T":164.2},{"series":"HEMA 25%AAm","wn":1253,"T":160.8},{"series":"HEMA 25%AAm","wn":1234,"T":162.5},{"series":"HEMA 25%AAm","wn":1211,"T":163.3},{"series":"HEMA 25%AAm","wn":1195,"T":162.5},{"series":"HEMA 25%AAm","wn":1172,"T":160.8},{"series":"HEMA 25%AAm","wn":1148,"T":157.5},{"series":"HEMA 25%AAm","wn":1132,"T":155.8},{"series":"HEMA 25%AAm","wn":1113,"T":160},{"series":"HEMA 25%AAm","wn":1095,"T":162.5},{"series":"HEMA 25%AAm","wn":1071,"T":159.2},{"series":"HEMA 25%AAm","wn":1048,"T":152.5},{"series":"HEMA 25%AAm","wn":1025,"T":160.8},{"series":"HEMA 25%AAm","wn":1009,"T":162.5},{"series":"HEMA 25%AAm","wn":985,"T":172.5},{"series":"HEMA 25%AAm","wn":969,"T":179.2},{"series":"HEMA 25%AAm","wn":951,"T":182.5},{"series":"HEMA 25%AAm","wn":927,"T":181.7},{"series":"HEMA 25%AAm","wn":909,"T":182.5},{"series":"HEMA 25%AAm","wn":892,"T":180},{"series":"HEMA 25%AAm","wn":881,"T":174.2},{"series":"HEMA 25%AAm","wn":862,"T":175},{"series":"HEMA 25%AAm","wn":846,"T":171.7},{"series":"HEMA 25%AAm","wn":830,"T":169.2},{"series":"HEMA 25%AAm","wn":811,"T":167.5},{"series":"HEMA 25%AAm","wn":799,"T":165.8},{"series":"HEMA 25%AAm","wn":776,"T":160.8},{"series":"HEMA 25%AAm","wn":753,"T":157.5},{"series":"HEMA 25%AAm","wn":730,"T":155.8},{"series":"HEMA 25%AAm","wn":706,"T":153.3},{"series":"HEMA 25%AAm","wn":671,"T":150.8},{"series":"HEMA 25%AAm","wn":637,"T":147.5},{"series":"HEMA 25%AAm","wn":602,"T":145},{"series":"HEMA 25%AAm","wn":578,"T":144.2},{"series":"HEMA 25%AAm","wn":543,"T":145.8},{"series":"HEMA 25%AAm","wn":509,"T":149.2},{"series":"HEMA 25%AAm","wn":474,"T":154.2},{"series":"HEMA 25%AAm","wn":439,"T":160.8},{"series":"HEMA 25%AAm","wn":413,"T":168.3},{"series":"HEMA 25%AAm","wn":400,"T":172},
{"series":"HEMA","wn":4001,"T":110},{"series":"HEMA","wn":3982,"T":113.3},{"series":"HEMA","wn":3968,"T":111.7},{"series":"HEMA","wn":3940,"T":112.5},{"series":"HEMA","wn":3913,"T":111.7},{"series":"HEMA","wn":3885,"T":112.5},{"series":"HEMA","wn":3857,"T":111.7},{"series":"HEMA","wn":3830,"T":112.8},{"series":"HEMA","wn":3802,"T":111.7},{"series":"HEMA","wn":3775,"T":113.3},{"series":"HEMA","wn":3753,"T":111.7},{"series":"HEMA","wn":3733,"T":112.5},{"series":"HEMA","wn":3720,"T":110.8},{"series":"HEMA","wn":3711,"T":104.2},{"series":"HEMA","wn":3697,"T":92.5},{"series":"HEMA","wn":3684,"T":75.8},{"series":"HEMA","wn":3664,"T":59.2},{"series":"HEMA","wn":3637,"T":47.5},{"series":"HEMA","wn":3595,"T":37.5},{"series":"HEMA","wn":3554,"T":30.8},{"series":"HEMA","wn":3499,"T":25.8},{"series":"HEMA","wn":3457,"T":23.3},{"series":"HEMA","wn":3430,"T":22.2},{"series":"HEMA","wn":3389,"T":23.3},{"series":"HEMA","wn":3347,"T":26.7},{"series":"HEMA","wn":3306,"T":33.3},{"series":"HEMA","wn":3278,"T":37.8},{"series":"HEMA","wn":3237,"T":47.5},{"series":"HEMA","wn":3196,"T":59.2},{"series":"HEMA","wn":3154,"T":70.8},{"series":"HEMA","wn":3113,"T":82.5},{"series":"HEMA","wn":3085,"T":89.2},{"series":"HEMA","wn":3058,"T":92.5},{"series":"HEMA","wn":3038,"T":93.3},{"series":"HEMA","wn":3016,"T":89.2},{"series":"HEMA","wn":2989,"T":84.2},{"series":"HEMA","wn":2961,"T":80},{"series":"HEMA","wn":2933,"T":77.8},{"series":"HEMA","wn":2914,"T":80.8},{"series":"HEMA","wn":2898,"T":86.7},{"series":"HEMA","wn":2878,"T":90},{"series":"HEMA","wn":2851,"T":95.8},{"series":"HEMA","wn":2823,"T":104.2},{"series":"HEMA","wn":2796,"T":111.7},{"series":"HEMA","wn":1776,"T":111.7},{"series":"HEMA","wn":1765,"T":105.8},{"series":"HEMA","wn":1753,"T":94.2},{"series":"HEMA","wn":1741,"T":77.5},{"series":"HEMA","wn":1730,"T":65.8},{"series":"HEMA","wn":1713,"T":60.3},{"series":"HEMA","wn":1695,"T":62.5},{"series":"HEMA","wn":1676,"T":70},{"series":"HEMA","wn":1667,"T":70.8},{"series":"HEMA","wn":1653,"T":65.8},{"series":"HEMA","wn":1637,"T":58.8},{"series":"HEMA","wn":1620,"T":69.2},{"series":"HEMA","wn":1602,"T":77.5},{"series":"HEMA","wn":1583,"T":83.3},{"series":"HEMA","wn":1567,"T":83.8},{"series":"HEMA","wn":1544,"T":82.5},{"series":"HEMA","wn":1520,"T":80},{"series":"HEMA","wn":1504,"T":72.5},{"series":"HEMA","wn":1485,"T":62.5},{"series":"HEMA","wn":1458,"T":56.7},{"series":"HEMA","wn":1439,"T":60.8},{"series":"HEMA","wn":1420,"T":64.5},{"series":"HEMA","wn":1404,"T":61.7},{"series":"HEMA","wn":1388,"T":60.8},{"series":"HEMA","wn":1369,"T":65.8},{"series":"HEMA","wn":1346,"T":70},{"series":"HEMA","wn":1323,"T":70.8},{"series":"HEMA","wn":1299,"T":65.8},{"series":"HEMA","wn":1272,"T":60},{"series":"HEMA","wn":1241,"T":64.2},{"series":"HEMA","wn":1218,"T":70},{"series":"HEMA","wn":1195,"T":63.3},{"series":"HEMA","wn":1172,"T":55.8},{"series":"HEMA","wn":1155,"T":54.2},{"series":"HEMA","wn":1137,"T":60},{"series":"HEMA","wn":1113,"T":65.8},{"series":"HEMA","wn":1095,"T":64.2},{"series":"HEMA","wn":1078,"T":59.2},{"series":"HEMA","wn":1062,"T":60.8},{"series":"HEMA","wn":1044,"T":66.7},{"series":"HEMA","wn":1025,"T":69.2},{"series":"HEMA","wn":1009,"T":74.2},{"series":"HEMA","wn":993,"T":87.5},{"series":"HEMA","wn":978,"T":96.7},{"series":"HEMA","wn":962,"T":93.3},{"series":"HEMA","wn":946,"T":98.3},{"series":"HEMA","wn":927,"T":100.8},{"series":"HEMA","wn":911,"T":95.8},{"series":"HEMA","wn":892,"T":100},{"series":"HEMA","wn":876,"T":97.5},{"series":"HEMA","wn":857,"T":98.3},{"series":"HEMA","wn":839,"T":100},{"series":"HEMA","wn":823,"T":102.5},{"series":"HEMA","wn":811,"T":105.8},{"series":"HEMA","wn":799,"T":101.7},{"series":"HEMA","wn":783,"T":98.3},{"series":"HEMA","wn":769,"T":97.5},{"series":"HEMA","wn":753,"T":92.5},{"series":"HEMA","wn":741,"T":87.5},{"series":"HEMA","wn":723,"T":93.3},{"series":"HEMA","wn":706,"T":90},{"series":"HEMA","wn":690,"T":86.7},{"series":"HEMA","wn":671,"T":84.2},{"series":"HEMA","wn":653,"T":82.5},{"series":"HEMA","wn":636,"T":80},{"series":"HEMA","wn":613,"T":77.5},{"series":"HEMA","wn":590,"T":76.7},{"series":"HEMA","wn":567,"T":75},{"series":"HEMA","wn":543,"T":73.3},{"series":"HEMA","wn":527,"T":70},{"series":"HEMA","wn":513,"T":67.5},{"series":"HEMA","wn":497,"T":70},{"series":"HEMA","wn":481,"T":68.3},{"series":"HEMA","wn":462,"T":65.8},{"series":"HEMA","wn":443,"T":69.2},{"series":"HEMA","wn":427,"T":71.7},{"series":"HEMA","wn":413,"T":72.5},{"series":"HEMA","wn":400,"T":73}
],
"labelsR":[
{"wn":3457,"T":290,"label":"—3448.72"},{"wn":3052,"T":370,"label":"3037.88"},{"wn":2942,"T":365,"label":"—2929.86"},{"wn":1734,"T":340.8,"label":"~1699.28"},{"wn":1637,"T":325,"label":"—1637.56"},{"wn":1458,"T":347.5,"label":"—1458.18"},{"wn":1274,"T":351.7,"label":"—1278.8"},{"wn":1167,"T":345.8,"label":"~1165"},{"wn":1067,"T":345.8,"label":"—1078.21"},
{"wn":3477,"T":193.3,"label":"—3448.72"},{"wn":3071,"T":279.2,"label":"3034.02"},{"wn":2969,"T":270,"label":"—2931.79"},{"wn":1655,"T":225,"label":"—1641.42"},{"wn":1481,"T":257.5,"label":"—1456.25"},{"wn":1292,"T":257.5,"label":"~1261.44"},{"wn":1188,"T":250,"label":"~1161.14"},{"wn":1099,"T":248.3,"label":"—1078.21"},
{"wn":3422,"T":97.5,"label":"—3444.86"},{"wn":3011,"T":160.8,"label":"3026.31"},{"wn":2914,"T":154.2,"label":"—2929.86"},{"wn":1713,"T":145,"label":"~1714.71"},{"wn":1620,"T":137.5,"label":"—1645.28"},{"wn":1432,"T":160.8,"label":"—1454.32"},{"wn":1248,"T":159.2,"label":"~1261.44"},{"wn":1144,"T":155,"label":"~1159.22"},{"wn":1051,"T":150.8,"label":"—1078.21"},
{"wn":3430,"T":19.2,"label":"—3441"},{"wn":3052,"T":86.7,"label":"3047.52"},{"wn":2936,"T":75.8,"label":"—2935.65"},{"wn":1737,"T":58.3,"label":"~1716.64"},{"wn":1637,"T":57.5,"label":"—1637.56"},{"wn":1458,"T":55,"label":"—1458.18"},{"wn":1160,"T":52.5,"label":"—1161.14"},{"wn":1062,"T":57.5,"label":"~1078.21"},{"wn":667,"T":84.2,"label":"—665.44"}
],
"titlesR":[
{"wn":2200,"T":388.8,"name":"HEMA 5%AAm"},{"wn":2247,"T":292.5,"name":"HEMA 15%AAm"},{"wn":2255,"T":200,"name":"HEMA\u00a0 25%AAm"},{"wn":2203,"T":118.3,"name":"HEMA"}
]
},
"hconcat":[
{
"width":521,"height":778,
"layer":[
{"data":{"name":"specL"},"mark":{"type":"line","color":"black","strokeWidth":1,"clip":false},
 "encoding":{
  "x":{"field":"wn","type":"quantitative","scale":{"domain":[312,4087],"reverse":true,"nice":false,"zero":false},
   "axis":{"values":[4000,3000,2000,1000],
    "format":"d","labelFlush":false,"labelOverlap":false,
    "labelFont":"Liberation Serif","labelFontWeight":"bold","labelFontSize":16,"labelColor":"black","labelPadding":5,"labelOffset":-5,
    "tickColor":"black","tickWidth":1,"tickSize":5,
    "domainColor":"black","domainWidth":1.5,"grid":false,
    "title":"Nombre d’onde (cm⁻¹)","titleFont":"Liberation Serif","titleFontWeight":"bold","titleFontSize":24,"titleColor":"black",
    "titleX":251,"titleY":48,"titleBaseline":"alphabetic","titleAlign":"center"}},
  "y":{"field":"T","type":"quantitative","scale":{"domain":[0,389],"nice":false,"zero":false},
   "axis":{"domain":false,"ticks":false,"labels":false,"grid":false,"title":"Transmitance (%)","titleFont":"Liberation Serif","titleFontWeight":"bold","titleFontSize":24,"titleColor":"black","titleAngle":-90,"titleX":-29,"titleY":344,"titleBaseline":"middle","titleAlign":"center"}},
  "detail":{"field":"series","type":"nominal"}}},
{"data":{"name":"ticksMinor"},"mark":{"type":"rule","color":"black","strokeWidth":1,"clip":false},
 "encoding":{"x":{"field":"wn","type":"quantitative","scale":{"domain":[312,4087],"reverse":true,"nice":false,"zero":false}},"y":{"datum":0,"type":"quantitative","scale":{"domain":[0,389],"nice":false,"zero":false}},"y2":{"datum":-1.5}}},
{"data":{"name":"ticksMid"},"mark":{"type":"rule","color":"black","strokeWidth":1,"clip":false},
 "encoding":{"x":{"field":"wn","type":"quantitative","scale":{"domain":[312,4087],"reverse":true,"nice":false,"zero":false}},"y":{"datum":0,"type":"quantitative","scale":{"domain":[0,389],"nice":false,"zero":false}},"y2":{"datum":-2.5}}},
{"data":{"values":[{}]},"mark":{"type":"rule","color":"black","strokeWidth":2,"strokeCap":"square","clip":false},
 "encoding":{"x":{"datum":4667,"type":"quantitative","scale":{"domain":[312,4087],"reverse":true,"nice":false,"zero":false}},"y":{"datum":398.5,"type":"quantitative","scale":{"domain":[0,389],"nice":false,"zero":false}},"y2":{"datum":-40}}},
{"data":{"values":[{}]},"mark":{"type":"rule","color":"black","strokeWidth":2,"strokeCap":"square","clip":false},
 "encoding":{"x":{"datum":4667,"type":"quantitative","scale":{"domain":[312,4087],"reverse":true,"nice":false,"zero":false}},"x2":{"datum":-4300},"y":{"datum":398.5,"type":"quantitative","scale":{"domain":[0,389],"nice":false,"zero":false}}}},
{"data":{"values":[{}]},"mark":{"type":"rule","color":"black","strokeWidth":2,"strokeCap":"square","clip":false},
 "encoding":{"x":{"datum":182,"type":"quantitative","scale":{"domain":[312,4087],"reverse":true,"nice":false,"zero":false}},"y":{"datum":398.5,"type":"quantitative","scale":{"domain":[0,389],"nice":false,"zero":false}},"y2":{"datum":-40}}},
{"data":{"values":[{}]},"mark":{"type":"rule","color":"black","strokeWidth":1.3,"clip":false},
 "encoding":{"x":{"datum":4051,"type":"quantitative","scale":{"domain":[312,4087],"reverse":true,"nice":false,"zero":false}},"x2":{"datum":3995},"y":{"datum":389,"type":"quantitative","scale":{"domain":[0,389],"nice":false,"zero":false}},"y2":{"datum":0}}},
{"data":{"name":"labelsL"},"mark":{"type":"text","angle":90,"align":"left","baseline":"middle","font":"DejaVu Sans","fontSize":10.5,"color":"#222"},
 "encoding":{"x":{"field":"wn","type":"quantitative","scale":{"domain":[312,4087],"reverse":true,"nice":false,"zero":false}},"y":{"field":"T","type":"quantitative","scale":{"domain":[0,389],"nice":false,"zero":false}},"text":{"field":"label"}}},
{"data":{"name":"titlesL"},"mark":{"type":"text","align":"center","baseline":"alphabetic","font":"Liberation Serif","fontWeight":"bold","fontSize":19,"color":"black"},
 "encoding":{"x":{"field":"wn","type":"quantitative","scale":{"domain":[312,4087],"reverse":true,"nice":false,"zero":false}},"y":{"field":"T","type":"quantitative","scale":{"domain":[0,389],"nice":false,"zero":false}},"text":{"field":"name"}}}
]
},
{
"width":526,"height":784,
"layer":[
{"data":{"name":"specR"},"mark":{"type":"line","color":"black","strokeWidth":1,"clip":true},
 "encoding":{
  "x":{"field":"wn","type":"quantitative","scale":{"domain":[413,4084],"reverse":true,"nice":false,"zero":false},
   "axis":{"values":[4000,3000,2000,1000],
    "format":"d","labelFlush":false,"labelOverlap":false,
    "labelFont":"Liberation Serif","labelFontWeight":"bold","labelFontSize":16,"labelColor":"black","labelPadding":7,"labelOffset":-8,
    "tickColor":"black","tickWidth":1,"tickSize":5,
    "domainColor":"black","domainWidth":1.5,"grid":false,
    "title":"Nombre d’onde (cm⁻¹)","titleFont":"Liberation Serif","titleFontWeight":"bold","titleFontSize":24,"titleColor":"black",
    "titleX":252,"titleY":50,"titleBaseline":"alphabetic","titleAlign":"center"}},
  "y":{"field":"T","type":"quantitative","scale":{"domain":[0,392],"nice":false,"zero":false},
   "axis":{"domain":false,"ticks":false,"labels":false,"grid":false,"title":"Transmitance (%)","titleFont":"Liberation Serif","titleFontWeight":"bold","titleFontSize":24,"titleColor":"black","titleAngle":-90,"titleX":-32,"titleY":345,"titleBaseline":"middle","titleAlign":"center"}},
  "detail":{"field":"series","type":"nominal"}}},
{"data":{"name":"ticksMinor"},"mark":{"type":"rule","color":"black","strokeWidth":1,"clip":false},
 "encoding":{"x":{"field":"wn","type":"quantitative","scale":{"domain":[413,4084],"reverse":true,"nice":false,"zero":false}},"y":{"datum":0,"type":"quantitative","scale":{"domain":[0,392],"nice":false,"zero":false}},"y2":{"datum":-1.5}}},
{"data":{"name":"ticksMid"},"mark":{"type":"rule","color":"black","strokeWidth":1,"clip":false},
 "encoding":{"x":{"field":"wn","type":"quantitative","scale":{"domain":[413,4084],"reverse":true,"nice":false,"zero":false}},"y":{"datum":0,"type":"quantitative","scale":{"domain":[0,392],"nice":false,"zero":false}},"y2":{"datum":-2.5}}},
{"data":{"values":[{}]},"mark":{"type":"rule","color":"black","strokeWidth":1.3,"clip":false},
 "encoding":{"x":{"datum":4050,"type":"quantitative","scale":{"domain":[413,4084],"reverse":true,"nice":false,"zero":false}},"x2":{"datum":3995},"y":{"datum":392,"type":"quantitative","scale":{"domain":[0,392],"nice":false,"zero":false}},"y2":{"datum":0}}},
{"data":{"name":"labelsR"},"mark":{"type":"text","angle":90,"align":"left","baseline":"middle","font":"DejaVu Sans","fontSize":10.5,"color":"#222"},
 "encoding":{"x":{"field":"wn","type":"quantitative","scale":{"domain":[413,4084],"reverse":true,"nice":false,"zero":false}},"y":{"field":"T","type":"quantitative","scale":{"domain":[0,392],"nice":false,"zero":false}},"text":{"field":"label"}}},
{"data":{"name":"titlesR"},"mark":{"type":"text","align":"center","baseline":"alphabetic","font":"Liberation Serif","fontWeight":"bold","fontSize":19,"color":"black"},
 "encoding":{"x":{"field":"wn","type":"quantitative","scale":{"domain":[413,4084],"reverse":true,"nice":false,"zero":false}},"y":{"field":"T","type":"quantitative","scale":{"domain":[0,392],"nice":false,"zero":false}},"text":{"field":"name"}}}
]
}
]
}
